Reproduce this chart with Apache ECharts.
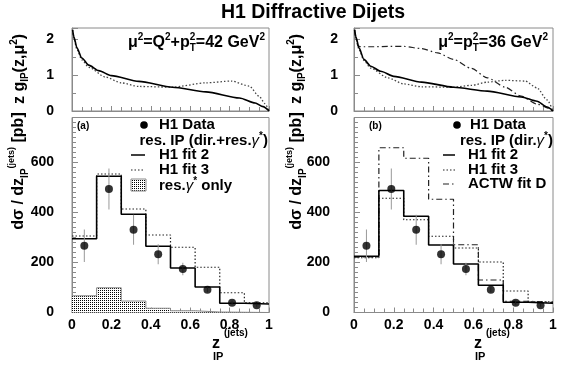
<!DOCTYPE html>
<html><head><meta charset="utf-8">
<script src="https://cdn.jsdelivr.net/npm/echarts@6/dist/echarts.min.js"></script>
<style>html,body{margin:0;padding:0;background:#fff}#c{width:567px;height:370px}</style>
</head><body><div id="c"></div>
<script>
// ---------- data ----------
const binEdges = [0, 0.125, 0.25, 0.375, 0.5, 0.625, 0.75, 0.875, 1];
const dataX = [0.0625, 0.1875, 0.3125, 0.4375, 0.5625, 0.6875, 0.8125, 0.9375];
const dataY = [267, 494, 331, 233, 174, 91, 39, 29];
const dataErr = [65, 82, 60, 40, 25, 10, 8, 6];
// panel (a)
const fit2A = [295, 545, 393, 265, 178, 102, 37, 34];
const fit3A = [306, 554, 414, 310, 261, 181, 79, 39];
const resGammaA = [67, 99, 46, 17, 7, 2, 1, 0];
// panel (b)
const fit2B = [225, 488, 385, 270, 194, 109, 41, 37];
const fit3B = [219, 457, 371, 305, 258, 202, 86, 43];
const actwB = [222, 659, 617, 453, 271, 130, 45, 40];
// upper panels: z g_IP(z, mu^2)
const zFit2A = [0.003, 0.01, 0.025, 0.05, 0.085, 0.135, 0.2, 0.34, 0.51, 0.68, 0.85, 0.93, 0.97, 1];
const gFit2A = [2.25, 2.05, 1.75, 1.47, 1.27, 1.12, 0.98, 0.82, 0.66, 0.53, 0.36, 0.22, 0.12, 0];
const zFit3A = [0.003, 0.01, 0.025, 0.05, 0.085, 0.17, 0.25, 0.34, 0.51, 0.68, 0.81, 0.9, 0.95, 0.98, 1];
const gFit3A = [2.25, 2.0, 1.7, 1.42, 1.21, 0.94, 0.78, 0.68, 0.66, 0.78, 0.83, 0.69, 0.41, 0.2, 0];
const zFit2B = [0.003, 0.01, 0.025, 0.05, 0.084, 0.134, 0.2, 0.34, 0.5, 0.67, 0.84, 0.92, 0.97, 1];
const gFit2B = [2.25, 2.05, 1.75, 1.43, 1.24, 1.10, 0.96, 0.80, 0.66, 0.55, 0.39, 0.27, 0.11, 0];
const zFit3B = [0.003, 0.01, 0.025, 0.05, 0.084, 0.17, 0.25, 0.34, 0.5, 0.59, 0.67, 0.76, 0.86, 0.92, 0.97, 1];
const gFit3B = [2.25, 2.0, 1.7, 1.4, 1.19, 0.92, 0.75, 0.67, 0.66, 0.71, 0.80, 0.85, 0.83, 0.64, 0.31, 0];
const zActwB = [0.003, 0.01, 0.02, 0.034, 0.1, 0.17, 0.25, 0.34, 0.42, 0.5, 0.59, 0.67, 0.76, 0.84, 0.92, 1];
const gActwB = [2.25, 2.0, 1.8, 1.78, 1.78, 1.79, 1.79, 1.73, 1.61, 1.43, 1.18, 0.92, 0.66, 0.41, 0.19, 0];
const xTickLabels = ['0', '0.2', '0.4', '0.6', '0.8', '1'];
const yTickLabelsLow = ['0', '200', '400', '600'];
const yTickLabelsUp = ['0', '1', '2'];

// ---------- helpers ----------
const FAM = "'Liberation Sans', Arial, Helvetica, sans-serif";
const mctx = document.createElement('canvas').getContext('2d');
function fnt(p) { return (p.italic ? 'italic ' : '') + (p.bold === false ? '' : 'bold ') + p.size + 'px ' + FAM; }
function formula(pieces, x, y, align, rotation) {
  let cx = 0, hold = null; const items = [];
  pieces.forEach(p => {
    mctx.font = fnt(p); const w = mctx.measureText(p.t).width;
    items.push({ p, x: cx });
    if (p.hold) { hold = w; }
    else { cx += hold !== null ? Math.max(w, hold) : w; hold = null; }
  });
  const off = align === 'center' ? -cx / 2 : align === 'right' ? -cx : 0;
  return {
    type: 'group', x, y, rotation: rotation || 0,
    children: items.map(it => ({
      type: 'text', x: it.x + off, y: it.p.dy || 0,
      style: { text: it.p.t, font: fnt(it.p), fill: '#000', textAlign: 'left', textVerticalAlign: 'middle', align: 'left', verticalAlign: 'middle' }
    }))
  };
}
function steps(vals) { return binEdges.map((x, i) => [x, vals[Math.min(i, vals.length - 1)]]); }
function pairs(xs, ys) { return xs.map((x, i) => [x, ys[i]]); }

const pc = document.createElement('canvas'); pc.width = 2; pc.height = 2;
const pctx = pc.getContext('2d'); pctx.fillStyle = '#fff'; pctx.fillRect(0, 0, 2, 2);
pctx.fillStyle = '#000'; pctx.fillRect(0, 0, 1, 1);
const hatch = { image: pc, repeat: 'repeat' };

const GRAY = '#8a8a8a';
const grids = [
  { left: 72, top: 28, width: 197, height: 83 },
  { left: 72, top: 117.5, width: 197, height: 195 },
  { left: 354, top: 28, width: 199, height: 83 },
  { left: 354, top: 117.5, width: 199, height: 195 }
].map(g => Object.assign({ show: true, borderColor: GRAY, borderWidth: 1, containLabel: false }, g));

const labelFont = { fontFamily: FAM, fontWeight: 'bold', fontSize: 14, color: '#000' };
function xAx(gi, lower) {
  return {
    gridIndex: gi, type: 'value', min: 0, max: 1, interval: 0.2,
    axisLine: { show: true, lineStyle: { color: GRAY, width: 1 } },
    axisTick: { show: true, inside: true, length: 5, lineStyle: { color: GRAY } },
    minorTick: { show: true, splitNumber: 4, length: 4, lineStyle: { color: GRAY } },
    splitLine: { show: false },
    axisLabel: lower ? Object.assign({ show: true, margin: 6, formatter: v => xTickLabels[Math.round(v * 5)] || '' }, labelFont) : { show: false }
  };
}
function yAx(gi, lower, margin) {
  return {
    gridIndex: gi, type: 'value', min: 0, max: lower ? 780 : 2.3, interval: lower ? 200 : 1,
    axisLine: { show: true, lineStyle: { color: GRAY, width: 1 } },
    axisTick: { show: true, inside: true, length: 6, lineStyle: { color: GRAY } },
    minorTick: { show: true, splitNumber: lower ? 10 : 2, length: 4, lineStyle: { color: GRAY } },
    splitLine: { show: false },
    axisLabel: Object.assign({
      margin: margin,
      formatter: v => {
        if (lower) { const i = Math.round(v / 200); return (Math.abs(v - i * 200) < 1e-6 && yTickLabelsLow[i]) || ''; }
        const i = Math.round(v); return (Math.abs(v - i) < 1e-6 && yTickLabelsUp[i]) || '';
      }
    }, labelFont)
  };
}

function hist(gi, vals, type, width, color) {
  return { type: 'line', xAxisIndex: gi, yAxisIndex: gi, step: 'end', data: steps(vals), symbol: 'none', silent: true,
    lineStyle: { color: color || '#000', width: width, type: type }, z: 3 };
}
function curve(gi, xs, ys, type, width, color) {
  return { type: 'line', xAxisIndex: gi, yAxisIndex: gi, data: pairs(xs, ys), symbol: 'none', silent: true,
    smooth: 0.25, smoothMonotone: 'x', lineStyle: { color: color || '#000', width: width, type: type }, z: 3 };
}
function errBars(gi) {
  return { type: 'custom', xAxisIndex: gi, yAxisIndex: gi, silent: true, z: 4,
    data: dataX.map((x, i) => [x, dataY[i], dataErr[i]]), encode: { x: 0, y: 1 },
    renderItem: (params, api) => {
      const x = api.value(0), y = api.value(1), e = api.value(2);
      const p1 = api.coord([x, y - e]), p2 = api.coord([x, y + e]);
      return { type: 'line', shape: { x1: p1[0], y1: p1[1], x2: p2[0], y2: p2[1] }, style: { stroke: '#999', lineWidth: 1 } };
    } };
}
function points(gi) {
  return { type: 'scatter', xAxisIndex: gi, yAxisIndex: gi, data: pairs(dataX, dataY), symbol: 'circle', symbolSize: 8,
    itemStyle: { color: '#000' }, silent: true, z: 5 };
}
const DASHDOT = [6, 3, 1.5, 3];

const series = [
  // (a) upper
  curve(0, zFit3A, gFit3A, [1.5, 2], 1.3, '#444'),
  curve(0, zFit2A, gFit2A, 'solid', 1.6),
  // (a) lower
  { type: 'line', xAxisIndex: 1, yAxisIndex: 1, step: 'end', data: steps(resGammaA), symbol: 'none', silent: true,
    lineStyle: { color: GRAY, width: 1 }, areaStyle: { color: hatch, opacity: 1 }, z: 2 },
  hist(1, fit3A, [1.5, 2], 1.2, '#222'),
  hist(1, fit2A, 'solid', 1.6),
  errBars(1), points(1),
  // (b) upper
  curve(2, zActwB, gActwB, DASHDOT, 1.2, '#222'),
  curve(2, zFit3B, gFit3B, [1.5, 2], 1.3, '#444'),
  curve(2, zFit2B, gFit2B, 'solid', 1.6),
  // (b) lower
  hist(3, actwB, DASHDOT, 1.2, '#222'),
  hist(3, fit3B, [1.5, 2], 1.2, '#222'),
  hist(3, fit2B, 'solid', 1.6),
  errBars(3), points(3)
];

// ---------- text / legend graphics ----------
const S = 15;
const graphic = [
  formula([{ t: 'H1 Diffractive Dijets', size: 19.5 }], 313, 13, 'center'),
  formula([{ t: 'μ', size: 16 }, { t: '2', size: 10, dy: -6 }, { t: '=Q', size: 16 }, { t: '2', size: 10, dy: -6 },
    { t: '+p', size: 16 }, { t: '2', size: 10, dy: -6, hold: true }, { t: 'T', size: 10, dy: 5 },
    { t: '=42 GeV', size: 16 }, { t: '2', size: 10, dy: -6 }], 265, 43, 'right'),
  formula([{ t: 'μ', size: 16 }, { t: '2', size: 10, dy: -6 }, { t: '=p', size: 16 },
    { t: '2', size: 10, dy: -6, hold: true }, { t: 'T', size: 10, dy: 5 },
    { t: '=36 GeV', size: 16 }, { t: '2', size: 10, dy: -6 }], 548, 43, 'right'),
  // y titles
  formula([{ t: 'z g', size: 16 }, { t: 'IP', size: 10, dy: 5 }, { t: '(z,μ', size: 16 }, { t: '2', size: 10, dy: -6 }, { t: ')', size: 16 }], 20, 69, 'center', Math.PI / 2),
  formula([{ t: 'dσ / dz', size: 16 }, { t: 'IP', size: 10, dy: 6 }, { t: '(jets)', size: 9, dy: -7 }, { t: ' [pb]', size: 16 }], 19, 171, 'center', Math.PI / 2),
  formula([{ t: 'z g', size: 16 }, { t: 'IP', size: 10, dy: 5 }, { t: '(z,μ', size: 16 }, { t: '2', size: 10, dy: -6 }, { t: ')', size: 16 }], 297, 69, 'center', Math.PI / 2),
  formula([{ t: 'dσ / dz', size: 16 }, { t: 'IP', size: 10, dy: 6 }, { t: '(jets)', size: 9, dy: -7 }, { t: ' [pb]', size: 16 }], 297, 171, 'center', Math.PI / 2),
  // x titles
  formula([{ t: 'z', size: 16 }], 212, 344, 'left'),
  formula([{ t: 'IP', size: 11 }], 213, 357, 'left'),
  formula([{ t: '(jets)', size: 10 }], 224, 333, 'left'),
  formula([{ t: 'z', size: 16 }], 474, 344, 'left'),
  formula([{ t: 'IP', size: 11 }], 475, 357, 'left'),
  formula([{ t: '(jets)', size: 10 }], 486, 333, 'left'),
  // legend (a)
  formula([{ t: '(a)', size: 10 }], 77, 126, 'left'),
  { type: 'circle', shape: { cx: 144, cy: 125, r: 3.8 }, style: { fill: '#000' } },
  formula([{ t: 'H1 Data', size: S }], 159, 125, 'left'),
  formula([{ t: 'res. IP (dir.+res.', size: S }, { t: 'γ', size: S, italic: true, bold: false }, { t: '*', size: 10, dy: -5 }, { t: ')', size: S }], 268, 141, 'right'),
  { type: 'line', shape: { x1: 131, y1: 155, x2: 145, y2: 155 }, style: { stroke: '#000', lineWidth: 1.5 } },
  formula([{ t: 'H1 fit 2', size: S }], 159, 155, 'left'),
  { type: 'line', shape: { x1: 131, y1: 170, x2: 145, y2: 170 }, style: { stroke: '#222', lineWidth: 1.2, lineDash: [1.5, 2] } },
  formula([{ t: 'H1 fit 3', size: S }], 159, 170, 'left'),
  { type: 'rect', shape: { x: 131, y: 179, width: 15, height: 12 }, style: { fill: hatch, stroke: GRAY, lineWidth: 1 } },
  formula([{ t: 'res.', size: S }, { t: 'γ', size: S, italic: true, bold: false }, { t: '*', size: 10, dy: -5 }, { t: ' only', size: S }], 159, 186, 'left'),
  // legend (b)
  formula([{ t: '(b)', size: 10 }], 369, 126, 'left'),
  { type: 'circle', shape: { cx: 457, cy: 125, r: 3.8 }, style: { fill: '#000' } },
  formula([{ t: 'H1 Data', size: S }], 470, 125, 'left'),
  formula([{ t: 'res. IP (dir.', size: S }, { t: 'γ', size: S, italic: true, bold: false }, { t: '*', size: 10, dy: -5 }, { t: ')', size: S }], 553, 141, 'right'),
  { type: 'line', shape: { x1: 443, y1: 155, x2: 455, y2: 155 }, style: { stroke: '#000', lineWidth: 1.5 } },
  formula([{ t: 'H1 fit 2', size: S }], 468, 155, 'left'),
  { type: 'line', shape: { x1: 443, y1: 170, x2: 455, y2: 170 }, style: { stroke: '#222', lineWidth: 1.2, lineDash: [1.5, 2] } },
  formula([{ t: 'H1 fit 3', size: S }], 468, 170, 'left'),
  { type: 'line', shape: { x1: 443, y1: 184, x2: 455, y2: 184 }, style: { stroke: '#222', lineWidth: 1.2, lineDash: DASHDOT } },
  formula([{ t: 'ACTW fit D', size: S }], 468, 184, 'left')
];

const chart = echarts.init(document.getElementById('c'), null, { renderer: 'canvas' });
chart.setOption({
  animation: false,
  backgroundColor: '#fff',
  grid: grids,
  xAxis: [xAx(0, false), xAx(1, true), xAx(2, false), xAx(3, true)],
  yAxis: [yAx(0, false, 18), yAx(1, true, 18), yAx(2, false, 16), yAx(3, true, 24)],
  series: series,
  graphic: graphic
});
</script></body></html>
